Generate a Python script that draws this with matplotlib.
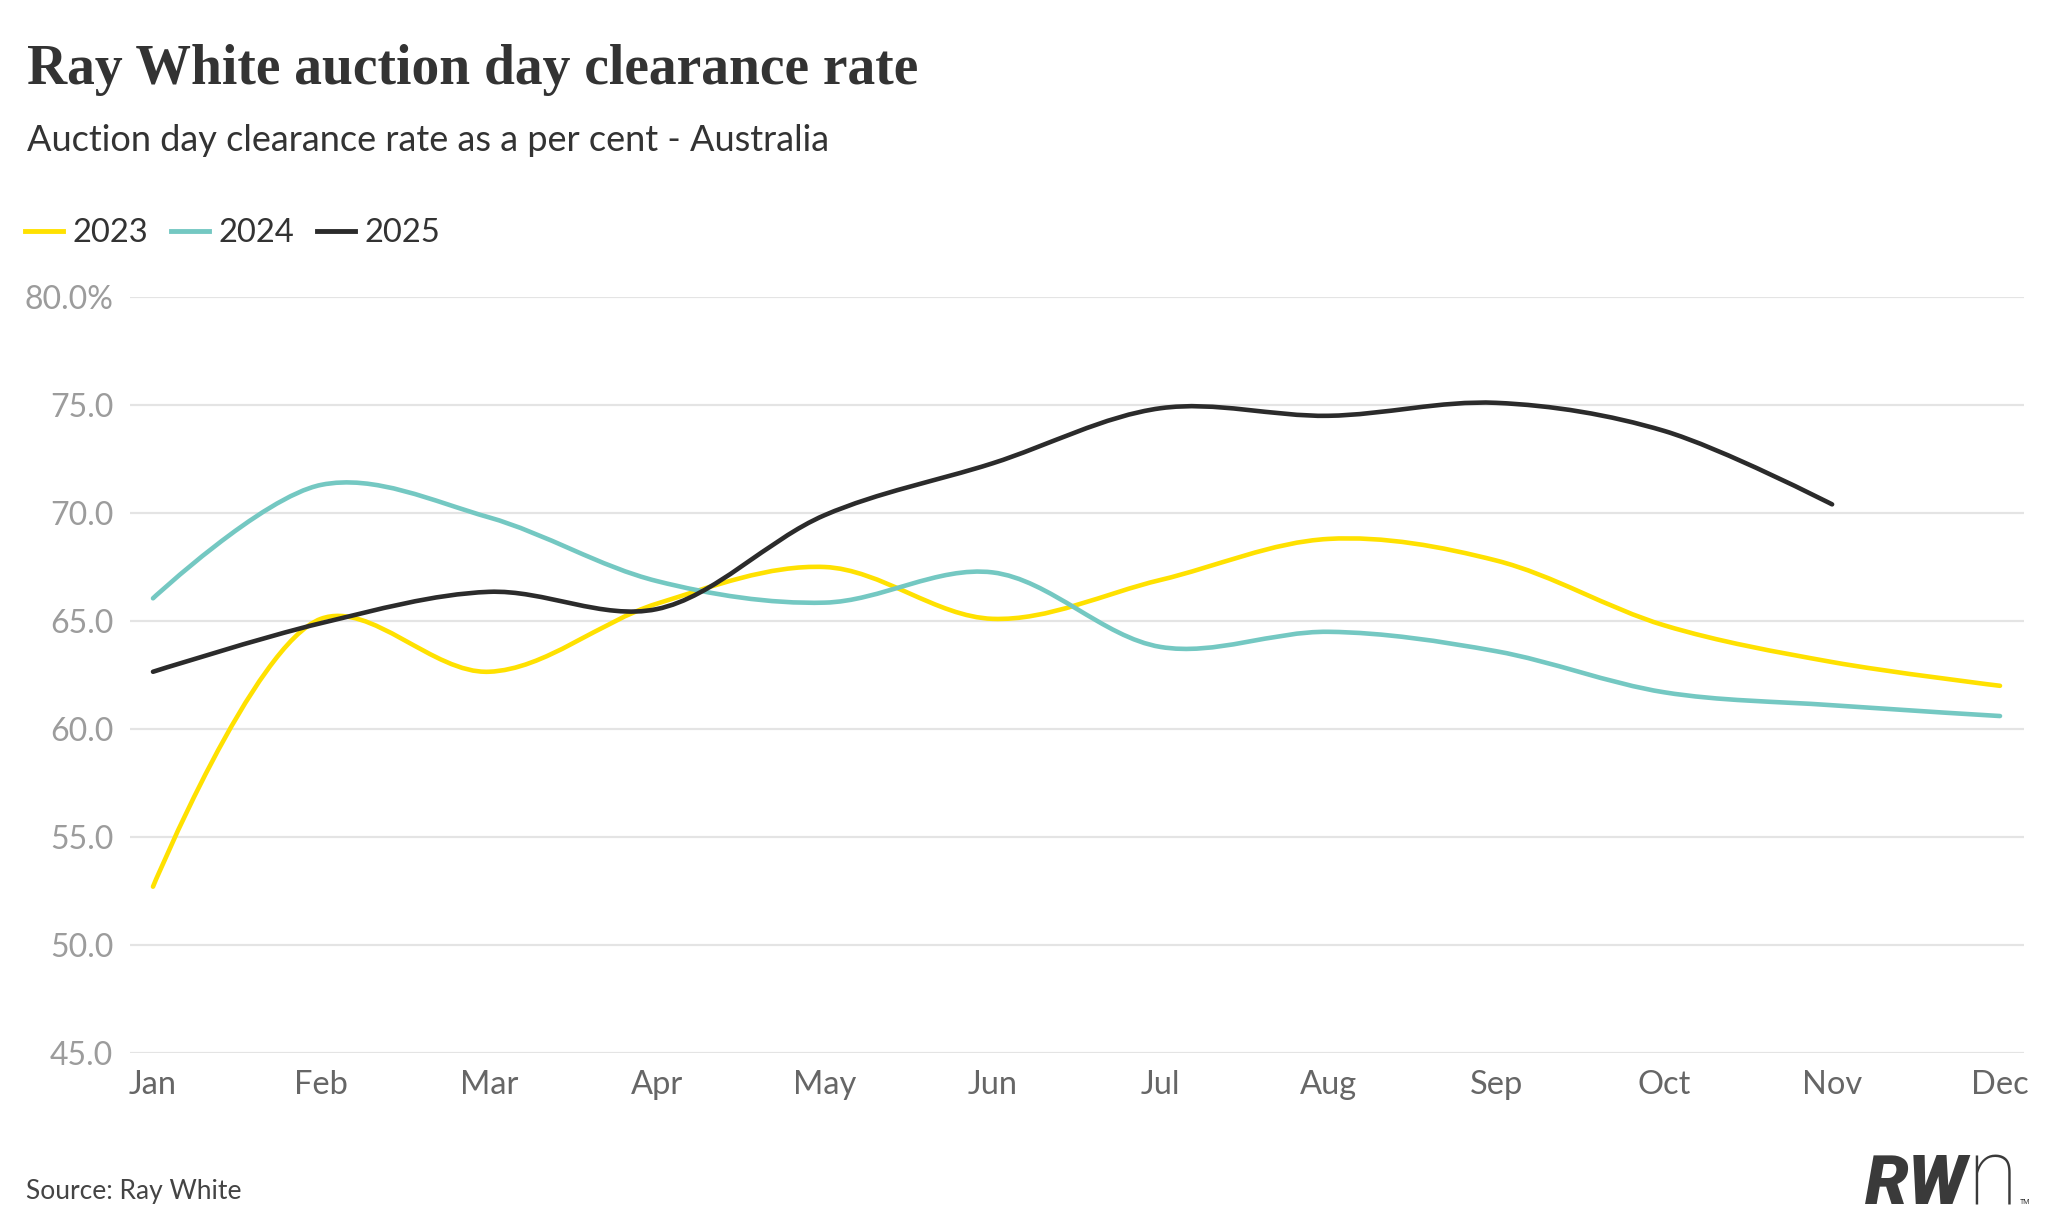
import numpy as np
import matplotlib.pyplot as plt
from matplotlib.path import Path
from matplotlib.patches import PathPatch
from matplotlib.lines import Line2D

plt.rcParams['font.family'] = ['Lato', 'DejaVu Sans']

W, H = 2052, 1229

months = ["Jan", "Feb", "Mar", "Apr", "May", "Jun",
          "Jul", "Aug", "Sep", "Oct", "Nov", "Dec"]
rate_2023 = [52.7, 65.1, 62.65, 65.8, 67.5, 65.1, 66.9, 68.8, 67.8, 64.8, 63.1, 62.0]
rate_2024 = [66.05, 71.3, 69.8, 66.85, 65.85, 67.25, 63.8, 64.5, 63.6, 61.7, 61.1, 60.6]
rate_2025 = [62.65, 64.9, 66.35, 65.55, 69.9, 72.3, 74.85, 74.5, 75.1, 73.8, 70.4]
years = ["2023", "2024", "2025"]
colours = ["#ffe100", "#74c8c2", "#2b2b2b"]

y_ticks = [45, 50, 55, 60, 65, 70, 75, 80]
y_labels = ["45.0", "50.0", "55.0", "60.0", "65.0", "70.0", "75.0", "80.0%"]


def catmull_rom_path(xs, ys, sx, sy, alpha=0.5):
    """Centripetal Catmull-Rom (d3 style) as cubic bezier path in data units."""
    px = np.asarray(xs, float) * sx
    py = np.asarray(ys, float) * sy
    n = len(px)
    verts = [(px[0], py[0])]
    codes = [Path.MOVETO]
    for i in range(n - 1):
        x0, y0 = (px[i - 1], py[i - 1]) if i > 0 else (px[i], py[i])
        x1, y1 = px[i], py[i]
        x2, y2 = px[i + 1], py[i + 1]
        x3, y3 = (px[i + 2], py[i + 2]) if i + 2 < n else (x2, y2)
        l01 = np.hypot(x1 - x0, y1 - y0)
        l12 = np.hypot(x2 - x1, y2 - y1)
        l23 = np.hypot(x3 - x2, y3 - y2)
        l01a, l12a, l23a = l01 ** alpha, l12 ** alpha, l23 ** alpha
        l01_2a, l12_2a, l23_2a = l01 ** (2 * alpha), l12 ** (2 * alpha), l23 ** (2 * alpha)
        c1x, c1y = x1, y1
        c2x, c2y = x2, y2
        if l01a > 1e-12:
            a = 2 * l01_2a + 3 * l01a * l12a + l12_2a
            m = 3 * l01a * (l01a + l12a)
            c1x = (x1 * a - x0 * l12_2a + x2 * l01_2a) / m
            c1y = (y1 * a - y0 * l12_2a + y2 * l01_2a) / m
        if l23a > 1e-12:
            b = 2 * l23_2a + 3 * l23a * l12a + l12_2a
            m = 3 * l23a * (l23a + l12a)
            c2x = (x2 * b + x1 * l23_2a - x3 * l12_2a) / m
            c2y = (y2 * b + y1 * l23_2a - y3 * l12_2a) / m
        verts += [(c1x, c1y), (c2x, c2y), (x2, y2)]
        codes += [Path.CURVE4] * 3
    verts = np.array(verts)
    verts[:, 0] /= sx
    verts[:, 1] /= sy
    return Path(verts, codes)


fig = plt.figure(figsize=(W / 100, H / 100), dpi=100)
fig.patch.set_facecolor("white")

ax_left, ax_right, ax_top, ax_bottom = 130, 2024, 297, 1053
ax = fig.add_axes([ax_left / W, 1 - ax_bottom / H,
                   (ax_right - ax_left) / W, (ax_bottom - ax_top) / H])

jan_px, dec_px = 153, 2000
step = (dec_px - jan_px) / 11
ax.set_xlim(-(jan_px - ax_left) / step, 11 + (ax_right - dec_px) / step)
ax.set_ylim(45, 80)

# pixel scales so the curve is built the way the web chart does it
sx = step
sy = (ax_bottom - ax_top) / 35.0

for vals, col in zip([rate_2023, rate_2024, rate_2025], colours):
    xs = np.arange(len(vals))
    path = catmull_rom_path(xs, vals, sx, sy)
    ax.add_patch(PathPatch(path, facecolor="none", edgecolor=col, lw=3.3,
                           capstyle="round", joinstyle="round", zorder=3,
                           clip_on=False))

ax.set_yticks(y_ticks)
ax.set_yticklabels(y_labels)
ax.set_xticks(range(12))
ax.set_xticklabels(months)
ax.tick_params(axis="y", length=0, pad=12, labelsize=23, labelcolor="#9c9c9c")
ax.tick_params(axis="x", length=0, pad=12, labelsize=23.5, labelcolor="#666666")
ax.grid(axis="y", color="#e4e4e4", lw=1.6, zorder=0)
ax.grid(axis="x", visible=False)
for s in ax.spines.values():
    s.set_visible(False)
ax.set_facecolor("none")

# title
title = fig.text(27 / W, 1 - 84 / H, "Ray White auction day clearance rate",
                 family=["Liberation Serif", "DejaVu Serif"], weight="bold",
                 fontsize=40, color="#333333", ha="left", va="baseline")
r = fig.canvas.get_renderer()
tw = title.get_window_extent(r).width
title.set_fontsize(40 * 891 / tw)

fig.text(27 / W, 1 - 151 / H, "Auction day clearance rate as a per cent - Australia",
         fontsize=26, color="#333333", ha="left", va="baseline")

handles = [Line2D([], [], color=c, lw=3.5) for c in colours]
fig.legend(handles, years, loc="center left",
           bbox_to_anchor=(25 / W, 1 - 233 / H), ncol=3, frameon=False,
           fontsize=23.6, handlelength=1.15, handletextpad=0.3,
           columnspacing=0.7, borderpad=0, borderaxespad=0,
           labelcolor="#333333")

fig.text(26 / W, 1 - 1199 / H, "Source: Ray White", fontsize=19,
         color="#444444", ha="left", va="baseline")

# logo
fig.text(1968 / W, 1 - 1204 / H, "RW", family=["Roboto", "DejaVu Sans"],
         weight="black", style="italic", fontsize=50, color="#3a3a3a",
         ha="right", va="baseline")
fig.text(2017 / W, 1 - 1204 / H, "n", family=["Roboto", "DejaVu Sans"],
         weight="ultralight", fontsize=66, color="#3a3a3a",
         ha="right", va="baseline")
fig.text(2020 / W, 1 - 1204 / H, "TM", family=["Roboto", "DejaVu Sans"],
         fontsize=5, color="#3a3a3a", ha="left", va="baseline")

fig.savefig("out.png", dpi=100, facecolor="white")
